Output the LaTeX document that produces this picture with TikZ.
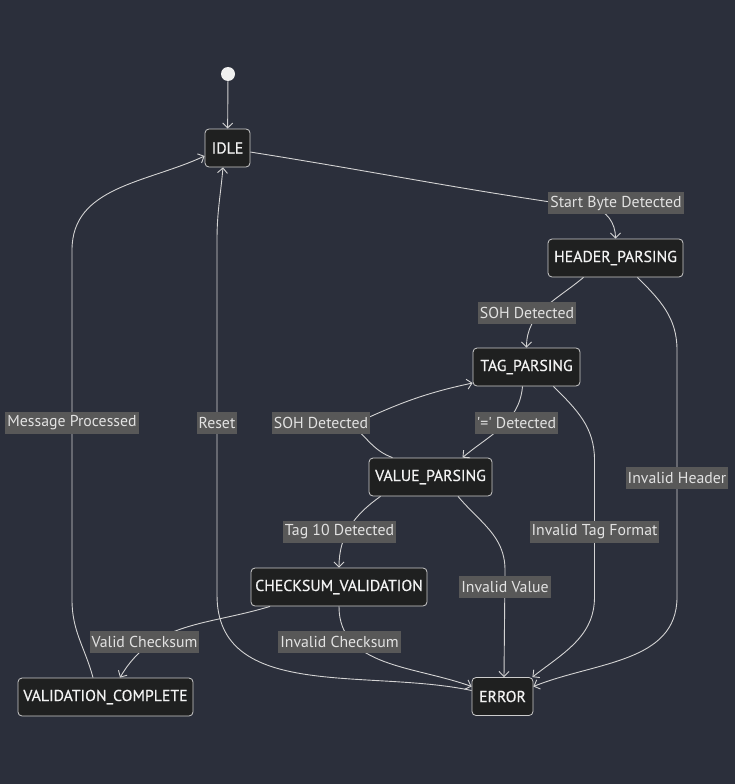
\documentclass[tikz,border=0pt]{standalone}
\usepackage{fontspec}
\setmainfont{PT Sans}
\newfontfamily\statefont[FakeBold=0.5]{PT Sans}
\usetikzlibrary{arrows.meta}
\definecolor{bg}{HTML}{2B2F3B}
\definecolor{nodefill}{HTML}{1F2020}
\definecolor{nodeline}{HTML}{CCCCCC}
\definecolor{nodetext}{HTML}{F2F2F2}
\definecolor{labelfill}{HTML}{585858}
\definecolor{labeltext}{HTML}{E2E2E2}
\definecolor{edge}{HTML}{D3D3D3}
\definecolor{startfill}{HTML}{F0F0F0}
\begin{document}
\begin{tikzpicture}[x=1pt,y=-1pt,
  state/.style={draw=nodeline, fill=nodefill, rounded corners=4pt,
    minimum height=38pt, inner sep=0pt, text=nodetext,
    font=\statefont\fontsize{15.8}{18}\selectfont, line width=0.8pt},
  elabel/.style={fill=labelfill, text=labeltext, inner xsep=2pt,
    inner ysep=0pt, minimum height=22pt, font=\fontsize{15.8}{18}\selectfont},
  trans/.style={draw=edge, line width=0.9pt,
    -{Straight Barb[length=5pt,width=10pt,line width=0.9pt]}}]

% background and page size
\fill[bg] (0,0) rectangle (735,784);
\useasboundingbox (0,0) rectangle (735,784);

% states
\node[circle, fill=startfill, minimum size=14pt, inner sep=0pt] (start) at (228,74) {};
\node[state, minimum width=45pt]  (idle) at (227.5,148) {IDLE};
\node[state, minimum width=135pt] (hp)   at (615.5,258) {HEADER\_PARSING};
\node[state, minimum width=107pt] (tag)  at (526.5,367) {TAG\_PARSING};
\node[state, minimum width=123pt] (val)  at (430.5,477) {VALUE\_PARSING};
\node[state, minimum width=176pt] (cs)   at (339,587)   {CHECKSUM\_VALIDATION};
\node[state, minimum width=175pt] (vc)   at (105.5,697) {VALIDATION\_COMPLETE};
\node[state, minimum width=61pt]  (err)  at (502.5,696.5) {ERROR};

% transitions
\draw[trans] (start) -- (idle);
\draw[trans] (idle.-10) to[out=-9,in=172] (592,208) to[out=-8,in=90] (hp.north);
\draw[trans] ([xshift=-32pt]hp.south) to[out=-140,in=90] (tag.north);
\draw[trans] ([xshift=-4pt]tag.south) to[out=-95,in=40] ([xshift=32pt]val.north);
\draw[trans] ([xshift=-38pt]val.north) to[out=160,in=-40] (352,425)
  to[out=25,in=-168] ([yshift=-16pt]tag.west);
\draw[trans] ([xshift=-50pt]val.south) to[out=-145,in=90] (cs.north);
\draw[trans] ([xshift=-69pt]cs.south) to[out=-163,in=60] ([xshift=14.5pt]vc.north);
\draw[trans] (cs.south) to[out=-90,in=160] ([yshift=10pt]err.west);
\draw[trans] ([yshift=6pt]err.west) to[out=168,in=-90] (217,595) -- (217,240)
  to[out=90,in=-95] ([xshift=-4.5pt]idle.south);
\draw[trans] ([xshift=-12.5pt]vc.north) to[out=105,in=-90] (72,600) -- (72,250)
  to[out=90,in=-155] ([yshift=-8pt]idle.west);
\draw[trans] ([xshift=27.5pt]val.south) to[out=-50,in=90] (505,570)
  -- ([xshift=1.5pt]err.north);
\draw[trans] ([xshift=27pt]tag.south) to[out=-45,in=90] (594.5,460) -- (594.5,597)
  to[out=-90,in=38] ([xshift=-1pt]err.north east);
\draw[trans] ([xshift=22pt]hp.south) to[out=-45,in=90] (677,350) -- (677,597)
  to[out=-90,in=22] ([yshift=10pt]err.east);

% transition labels
\node[elabel] (lsb)     at (616,203)   {Start Byte Detected};
\node[elabel] (lsoh1)   at (527,313)   {SOH Detected};
\node[elabel] (lsoh2)   at (321,423)   {SOH Detected};
\node[elabel] (leq)     at (516.5,423) {\textquotesingle=\textquotesingle{} Detected};
\node[elabel] (ltag)    at (339.5,532) {Tag 10 Detected};
\node[elabel] (lvalid)  at (144.5,642) {Valid Checksum};
\node[elabel] (linvcs)  at (339.5,642) {Invalid Checksum};
\node[elabel] (linvval) at (505,587)   {Invalid Value};
\node[elabel] (linvtag) at (594.5,532) {Invalid Tag Format};
\node[elabel] (linvhdr) at (677,478)   {Invalid Header};
\node[elabel] (lmsg)    at (72,423)    {Message Processed};
\node[elabel] (lreset)  at (217,423)   {Reset};
\end{tikzpicture}
\end{document}
